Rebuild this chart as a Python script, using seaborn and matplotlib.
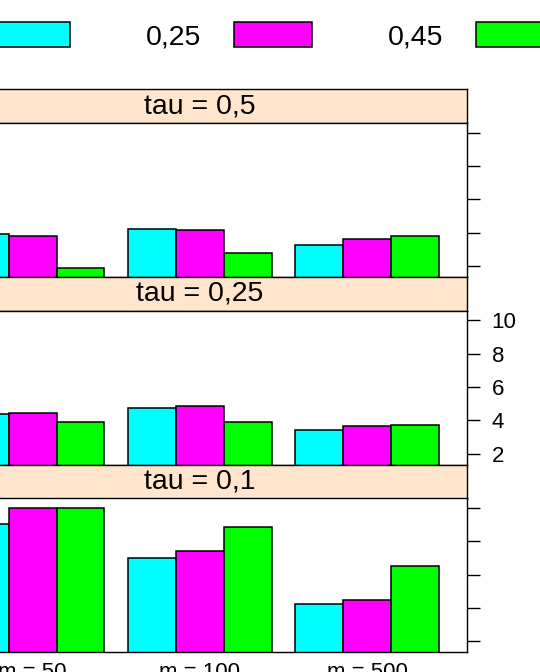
import seaborn as sns
import pandas as pd
import matplotlib.pyplot as plt

# values (three tau panels, groups m, three series)
m_levels = ["m = 50", "m = 100", "m = 500"]
alpha_levels = ["0,05", "0,25", "0,45"]
tau_panels = ["tau = 0,5", "tau = 0,25", "tau = 0,1"]

tau05 = [[3.90, 3.80, 1.89], [4.22, 4.14, 2.79], [3.26, 3.62, 3.80]]
tau025 = [[4.40, 4.46, 3.92], [4.74, 4.86, 3.92], [3.39, 3.66, 3.69]]
tau01 = [[9.04, 9.98, 9.98], [7.01, 7.42, 8.86], [4.23, 4.45, 6.52]]
panel_values = [tau05, tau025, tau01]

colors = ["#00FFFF", "#FF00FF", "#00FF00"]
y_ticks = [2, 4, 6, 8, 10]

sns.set_theme(style="white")
plt.rcParams['font.family'] = ['Liberation Sans', 'DejaVu Sans']
plt.rcParams['text.color'] = 'black'
plt.rcParams['xtick.color'] = 'black'
plt.rcParams['ytick.color'] = 'black'

W, H = 540, 672
fig = plt.figure(figsize=(W / 100, H / 100), dpi=100)

left_px, width_px = -67.7, 535.0
strip_h, plot_h, pitch, top0 = 33.8, 153.9, 187.7, 89.3

handles = None
for i, (title, vals) in enumerate(zip(tau_panels, panel_values)):
    rows = []
    for mi, m in enumerate(m_levels):
        for ai, a in enumerate(alpha_levels):
            rows.append({"m": m, "alpha": a, "value": vals[mi][ai]})
    df = pd.DataFrame(rows)

    top = top0 + i * pitch
    sax = fig.add_axes([left_px / W, 1 - (top + strip_h) / H, width_px / W, strip_h / H])
    ax = fig.add_axes([left_px / W, 1 - (top + strip_h + plot_h) / H, width_px / W, plot_h / H])

    sns.barplot(data=df, x="m", y="value", hue="alpha", order=m_levels,
                hue_order=alpha_levels, palette=colors, saturation=1,
                width=0.858, edgecolor="black", linewidth=1.1,
                errorbar=None, ax=ax)
    if handles is None:
        handles, labels = ax.get_legend_handles_labels()
    ax.get_legend().remove()

    ax.set_xlim(-0.6, 2.6)
    ax.set_ylim(1.33, 10.58)
    ax.set_xlabel("")
    ax.set_ylabel("")
    ax.set_yticks(y_ticks)
    ax.yaxis.tick_right()
    ax.tick_params(axis="y", which="both", right=True, left=False, length=9.5,
                   width=1.0, color="black", labelsize=16, pad=8,
                   labelright=(i == 1), labelcolor="black")
    ax.tick_params(axis="x", length=0, labelsize=16, pad=7,
                   labelbottom=(i == 2), labelcolor="black")
    for sp in ax.spines.values():
        sp.set_color("black")
        sp.set_linewidth(1.0)

    sax.set_facecolor("#FFE5CC")
    sax.set_xticks([])
    sax.set_yticks([])
    for sp in sax.spines.values():
        sp.set_color("black")
        sp.set_linewidth(1.0)
    sax.text(0.5, 0.5, title, ha="center", va="center", fontsize=20.5,
             color="black", transform=sax.transAxes)

fs = 20.5
leg = fig.legend(handles, labels, loc="center", bbox_to_anchor=(0.4243, 1 - 36.5 / H),
                 ncol=3, frameon=False, markerfirst=False, fontsize=fs,
                 handlelength=2.75, handleheight=0.98, handletextpad=1.12,
                 columnspacing=2.68, borderpad=0, borderaxespad=0)
for t in leg.get_texts():
    t.set_color("black")

fig.savefig("out.png", dpi=100)
